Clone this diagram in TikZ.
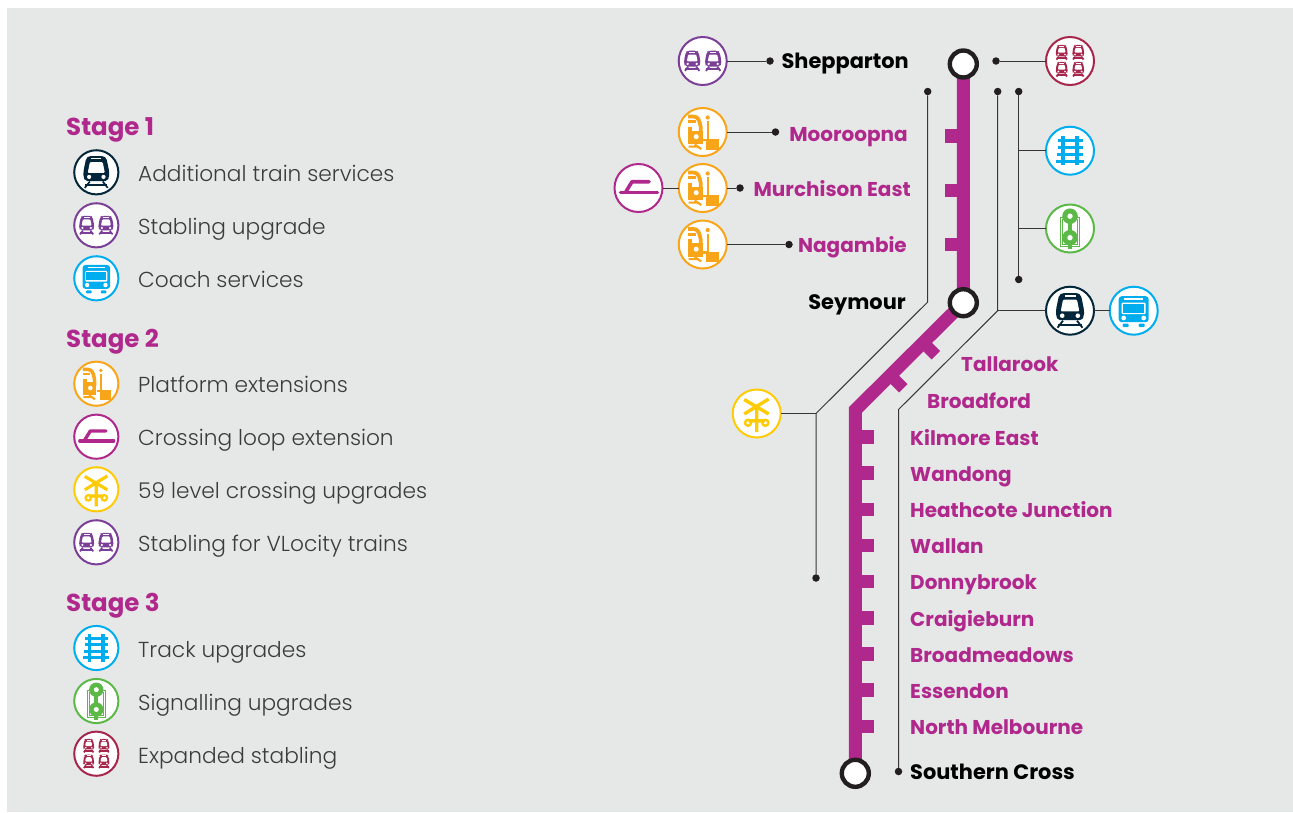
\documentclass[tikz,border=0pt]{standalone}
\usepackage{fontspec}
\setmainfont{Poppins}
\newfontfamily\lightf{Poppins Light}
\newfontfamily\boldf{Poppins Bold}
\definecolor{panel}{HTML}{E6E8E7}
\definecolor{mag}{HTML}{B0288C}
\definecolor{ink}{HTML}{231F20}
\definecolor{navy}{HTML}{03263A}
\definecolor{purp}{HTML}{7C3F98}
\definecolor{sky}{HTML}{00AEEF}
\definecolor{orng}{HTML}{F9A51A}
\definecolor{yell}{HTML}{FFCB05}
\definecolor{grn}{HTML}{5CB947}
\definecolor{wine}{HTML}{A6264C}
\definecolor{txt}{HTML}{3C3C3C}
\tikzset{
  iconc/.style={circle,fill=white,inner sep=0,outer sep=0,line width=2pt},
  dotn/.style={circle,fill=ink,inner sep=0,outer sep=0,minimum size=7.5pt},
  lead/.style={draw=ink!90,line width=1pt},
  stationc/.style={circle,fill=white,draw=ink,line width=4.4pt,minimum size=27pt,inner sep=0},
  stage/.style={anchor=base west,inner sep=0,mag,font=\boldf\fontsize{24.5}{26}\selectfont},
  leg/.style={anchor=base west,inner sep=0,txt,font=\lightf\fontsize{21.7}{24}\selectfont},
  stn/.style={inner sep=0,mag,font=\boldf\fontsize{20}{24}\selectfont},
  term/.style={inner sep=0,black,font=\boldf\fontsize{20.9}{24}\selectfont},
}
\def\ik{1}
\newcommand{\trainbody}[1]{%
  \fill[#1,rounded corners=2pt] (-12,9.5) -- (-14,5) -- (-14,-1) -- (-11,-15.5) -- (-8,-17.7) -- (8,-17.7) -- (11,-15.5) -- (14,-1) -- (14,5) -- (12,9.5) -- cycle;
  \fill[white,rounded corners=1pt] (-7,-11) -- (7,-11) -- (9.3,0.6) -- (-9.3,0.6) -- cycle;
  \fill[white] (-5.5,-15.8) rectangle (5.5,-14);
  \fill[white] (-7.8,5) circle (2.3) (7.8,5) circle (2.3);
  \draw[#1,line width=\ik*1.8pt] (-12,14) -- (12,14);
  \draw[#1,line width=\ik*1.8pt] (-7,10) -- (-12.5,17) (7,10) -- (12.5,17);
}
\newcommand{\shapetrain}[1]{\trainbody{#1}}
\newcommand{\shapetwo}[1]{%
  \begin{scope}[shift={(-10.5,0)},scale=.58]\trainbody{#1}\end{scope}
  \begin{scope}[shift={(10.5,0)},scale=.58]\trainbody{#1}\end{scope}}
\newcommand{\shapefour}[1]{%
  \foreach \a in {-8.3,8.3}{\foreach \b in {-8.6,8.4}{
    \begin{scope}[shift={(\a,\b)},scale=.42]\trainbody{#1}\end{scope}}}}
\newcommand{\shapebus}[1]{%
  \fill[#1,rounded corners=3pt] (-15,-14.5) rectangle (15,11.5);
  \fill[white] (-9.5,-12.5) rectangle (9.5,-10.8);
  \fill[white,rounded corners=1pt] (-12,-8) rectangle (12,3.5);
  \fill[#1] (-10.7,-6.7) rectangle (10.7,2.2);
  \fill[white] (-10,7.3) circle (2.4) (10,7.3) circle (2.4);
  \fill[#1,rounded corners=1pt] (-11,13) rectangle (-5,16.5) (5,13) rectangle (11,16.5);
}
\newcommand{\shapeplat}[1]{%
  \draw[#1,line width=\ik*3.8pt] (-14.5,-15.5) -- (-9,-15.5) .. controls (-4.5,-15.5) and (-3,-11) .. (-2,-5) -- (-1.8,2);
  \fill[#1] (-14.5,-12) rectangle (-7.2,-9);
  \fill[#1] (-14.5,-1.5) -- (0,-1.5) -- (0,12) -- (-14.5,12) -- cycle;
  \fill[#1] (-14.5,-5.5) rectangle (-10.5,0);
  \fill[white] (-6.5,4.7) circle (2.5);
  \draw[#1,line width=\ik*2.2pt] (-14,14.6) -- (-4,14.6) (-8,12.5) -- (-1.5,17);
  \fill[#1] (5,-14.5) circle (2.1);
  \draw[#1,line width=\ik*2.4pt] (5,-11) -- (5,8);
  \fill[#1] (0.5,6.6) rectangle (5,9);
  \fill[#1] (3.7,7) rectangle (15.8,17.5);
}
\newcommand{\shapeloop}[1]{%
  \draw[#1,line width=\ik*3.6pt,line cap=round] (-18,4.5) -- (19,4.5);
  \draw[#1,line width=\ik*3.6pt,line cap=round,line join=round] (-12.5,3.5) -- (-6.5,-6.3) -- (10.5,-6.3);
}
\newcommand{\shapexing}[1]{%
  \draw[#1,line width=\ik*3.4pt] (-12.5,-14) -- (12,0.5) (-12.5,0.5) -- (12,-14.5) (0,-8) -- (0,18.5) (-8,7.3) -- (8,7.3);
  \draw[#1,line width=\ik*2.4pt] (-8.7,9.3) circle (3) (8.7,9.3) circle (3);
}
\newcommand{\shapetrack}[1]{%
  \draw[#1,line width=\ik*4pt] (-7.3,-14.7) -- (-7.3,14.7) (7.3,-14.7) -- (7.3,14.7);
  \draw[#1,line width=\ik*3.2pt] (-12.5,-10.5) -- (12.5,-10.5) (-12.5,-3.5) -- (12.5,-3.5) (-13,3.5) -- (13,3.5) (-14,10.5) -- (14,10.5);
}
\newcommand{\shapesig}[1]{%
  \draw[#1,line width=\ik*1.1pt] (-9.5,-11) rectangle (9.5,18);
  \draw[#1,line width=\ik*1.1pt] (-7.3,-9) rectangle (7.3,16);
  \fill[white] (-6.7,-8.4) rectangle (6.7,15.4);
  \fill[#1] (0,-12.3) circle (7.8) (0,9.2) circle (7.8);
  \fill[#1] (-2.2,-10) rectangle (2.2,7);
  \fill[#1] (-2,15) rectangle (2,20.5);
  \fill[white] (0,-12.3) circle (2.7) (0,9.2) circle (2.7);
}
% \iconn{name}{x}{y}{scale}{colour}{shape}
\newcommand{\iconn}[6]{%
  \def\ik{#4}%
  \node[iconc,draw=#5,minimum size=#4*48pt] (#1) at (#2,#3) {};
  \begin{scope}[shift={(#2,#3)},scale=#4]#6{#5}\end{scope}
}
\newcommand{\tick}[1]{\fill[mag] (945,#1-6.6) rectangle (957,#1+6.6);}
\newcommand{\tickr}[1]{\fill[mag] (860,#1-6.6) rectangle (874,#1+6.6);}
\begin{document}
\begin{tikzpicture}[x=1pt,y=-1pt]
\useasboundingbox (0,0) rectangle (1293,812);
\fill[white] (0,0) rectangle (1293,812);
\fill[panel] (7,8) rectangle (1293,812);
% main line
\coordinate (topc) at (963.3,64);
\coordinate (midc) at (963.3,302.7);
\coordinate (bend) at (855.3,410);
\coordinate (botc) at (855.3,773.3);
\draw[mag,line width=13pt,line join=miter] (topc) -- (midc) -- (bend) -- (botc);
\tick{136}\tick{190.3}\tick{244.8}
\foreach \y in {437,473,509.5,545.5,581.5,618,654,690,726.5}{\tickr{\y}}
\draw[mag,line width=12pt] (922.8,342.2) -- (935.8,355.2);
\draw[mag,line width=12pt] (890.3,375.3) -- (903.3,388.3);
% leader dots and corners
\node[dotn] (dShep) at (770,61) {};
\node[dotn] (dMoor) at (775.5,132) {};
\node[dotn] (dMurc) at (740,188) {};
\node[dotn] (dNaga) at (789,244.5) {};
\node[dotn] (dShepR) at (996,61) {};
\node[dotn] (dLtop) at (927.7,91.5) {};
\node[dotn] (dLbot) at (816,578) {};
\node[dotn] (dCtop) at (997.7,91.5) {};
\node[dotn] (dCbot) at (898.5,771.5) {};
\node[dotn] (dRtop) at (1018.7,91.5) {};
\node[dotn] (dRbot) at (1018.7,279.5) {};
\coordinate (lA) at (927.7,302);
\coordinate (lB) at (816,413.5);
\coordinate (cA) at (997.7,310.7);
\coordinate (cB) at (898.5,409.5);
\coordinate (rA) at (1018.7,150.7);
\coordinate (rB) at (1018.7,228.5);
% icons on the map
\iconn{iShep}{702.7}{61}{1}{purp}{\shapetwo}
\iconn{iMoor}{702.7}{132}{1}{orng}{\shapeplat}
\iconn{iMurc}{702.7}{188}{1}{orng}{\shapeplat}
\iconn{iLoop}{638.5}{188}{1}{mag}{\shapeloop}
\iconn{iNaga}{702.7}{244.5}{1}{orng}{\shapeplat}
\iconn{iFour}{1070}{61}{1}{wine}{\shapefour}
\iconn{iTrack}{1070}{150.7}{1}{sky}{\shapetrack}
\iconn{iSig}{1070}{228.5}{1}{grn}{\shapesig}
\iconn{iTrain}{1070}{310.7}{1}{navy}{\shapetrain}
\iconn{iBus}{1133.7}{310.7}{1}{sky}{\shapebus}
\iconn{iXing}{756.7}{413.5}{1}{yell}{\shapexing}
% leaders
\draw[lead] (iShep) -- (dShep);
\draw[lead] (iMoor) -- (dMoor);
\draw[lead] (iMurc) -- (dMurc);
\draw[lead] (iLoop) -- (iMurc);
\draw[lead] (iNaga) -- (dNaga);
\draw[lead] (dShepR) -- (iFour);
\draw[lead] (dLtop) -- (lA) -- (lB) -- (dLbot);
\draw[lead] (lB) -- (iXing);
\draw[lead] (dCtop) -- (cA) -- (cB) -- (dCbot);
\draw[lead] (cA) -- (iTrain);
\draw[lead] (iTrain) -- (iBus);
\draw[lead] (dRtop) -- (dRbot);
\draw[lead] (rA) -- (iTrack);
\draw[lead] (rB) -- (iSig);
% stations
\node[stationc] (sShep) at (topc) {};
\node[stationc] (sSeym) at (midc) {};
\node[stationc] (sSouth) at (botc) {};
% station labels
\node[term,anchor=base east] (tShep) at (909,68) {Shepparton};
\node[stn,anchor=base east] (tMoor) at (908,141) {Mooroopna};
\node[stn,anchor=base east] (tMurc) at (911,196) {Murchison East};
\node[stn,anchor=base east] (tNaga) at (907,252) {Nagambie};
\node[term,anchor=base east] (tSeym) at (906,309) {Seymour};
\node[stn,anchor=base west] (tTall) at (961,371) {Tallarook};
\node[stn,anchor=base west] (tBroa) at (927,408) {Broadford};
\node[stn,anchor=base west] (tKilm) at (910,445) {Kilmore East};
\node[stn,anchor=base west] (tWand) at (910,481) {Wandong};
\node[stn,anchor=base west] (tHeat) at (910,517) {Heathcote Junction};
\node[stn,anchor=base west] (tWall) at (910,553) {Wallan};
\node[stn,anchor=base west] (tDonn) at (910,589) {Donnybrook};
\node[stn,anchor=base west] (tCrai) at (910,626) {Craigieburn};
\node[stn,anchor=base west] (tBrme) at (910,662) {Broadmeadows};
\node[stn,anchor=base west] (tEsse) at (910,698) {Essendon};
\node[stn,anchor=base west] (tNorth) at (910,734) {North Melbourne};
\node[term,anchor=base west] (tSouth) at (910,779) {Southern Cross};
% legend
\node[stage] (hOne) at (66,135) {Stage 1};
\node[stage] (hTwo) at (66,347) {Stage 2};
\node[stage] (hThree) at (66,611) {Stage 3};
\iconn{l1}{96.3}{172.3}{.92}{navy}{\shapetrain}
\iconn{l2}{96.3}{225.3}{.92}{purp}{\shapetwo}
\iconn{l3}{96.3}{278.3}{.92}{sky}{\shapebus}
\iconn{l4}{96.3}{383.7}{.92}{orng}{\shapeplat}
\iconn{l5}{96.3}{436.7}{.92}{mag}{\shapeloop}
\iconn{l6}{96.3}{489.3}{.92}{yell}{\shapexing}
\iconn{l7}{96.3}{542.3}{.92}{purp}{\shapetwo}
\iconn{l8}{96.3}{648}{.92}{sky}{\shapetrack}
\iconn{l9}{96.3}{701}{.92}{grn}{\shapesig}
\iconn{l10}{96.3}{753.7}{.92}{wine}{\shapefour}
\node[leg] (x1) at (138,181) {Additional train services};
\node[leg] (x2) at (138,234) {Stabling upgrade};
\node[leg] (x3) at (138,287) {Coach services};
\node[leg] (x4) at (138,392) {Platform extensions};
\node[leg] (x5) at (138,445) {Crossing loop extension};
\node[leg] (x6) at (138,498) {59 level crossing upgrades};
\node[leg] (x7) at (138,551) {Stabling for VLocity trains};
\node[leg] (x8) at (138,657) {Track upgrades};
\node[leg] (x9) at (138,710) {Signalling upgrades};
\node[leg] (x10) at (138,763) {Expanded stabling};
\end{tikzpicture}
\end{document}
